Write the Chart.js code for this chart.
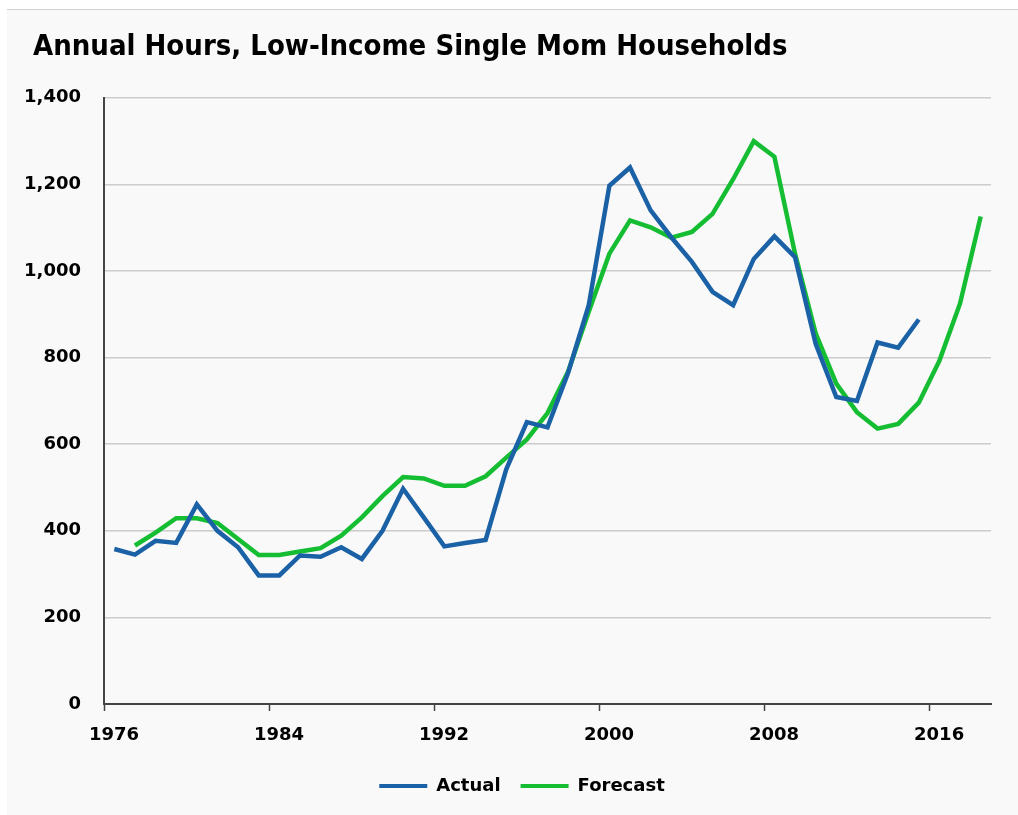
<!DOCTYPE html>
<html>
<head>
<meta charset="utf-8">
<title>Annual Hours, Low-Income Single Mom Households</title>
<script src="https://cdn.jsdelivr.net/npm/chart.js@4"></script>
<style>
    html, body { margin: 0; padding: 0; background: #ffffff; }
    #card {
        position: absolute; left: 7px; top: 9px; right: 0; bottom: 0;
        background: #f9f9f9; border-top: 1px solid #d0d0d0;
    }
    #hoursChart { position: absolute; left: 0; top: 0; }
</style>
</head>
<body>
<div id="card"></div>
<canvas id="hoursChart" width="1018" height="815"></canvas>
<script>
// Dados
const actualYears = [1976, 1977, 1978, 1979, 1980, 1981, 1982, 1983, 1984, 1985,
    1986, 1987, 1988, 1989, 1990, 1991, 1992, 1993, 1994, 1995,
    1996, 1997, 1998, 1999, 2000, 2001, 2002, 2003, 2004, 2005,
    2006, 2007, 2008, 2009, 2010, 2011, 2012, 2013, 2014, 2015];
const actualHours = [358, 345, 377, 372, 461, 400, 362, 297, 297, 343,
    340, 362, 335, 400, 497, 431, 364, 372, 379, 542,
    651, 639, 765, 921, 1197, 1239, 1140, 1078, 1021, 952,
    921, 1028, 1080, 1032, 832, 709, 700, 835, 823, 888];

const forecastYears = [1977, 1978, 1979, 1980, 1981, 1982, 1983, 1984, 1985,
    1986, 1987, 1988, 1989, 1990, 1991, 1992, 1993, 1994, 1995,
    1996, 1997, 1998, 1999, 2000, 2001, 2002, 2003, 2004, 2005,
    2006, 2007, 2008, 2009, 2010, 2011, 2012, 2013, 2014, 2015,
    2016, 2017, 2018];
const forecastHours = [366, 396, 429, 429, 418, 381, 344, 344, 352,
    360, 389, 431, 480, 524, 521, 504, 504, 526, 569,
    611, 672, 768, 906, 1040, 1117, 1101, 1077, 1090, 1132,
    1212, 1300, 1264, 1040, 856, 740, 674, 636, 647, 696,
    793, 925, 1126];

const xTicks = [1976, 1984, 1992, 2000, 2008, 2016];
const yTicks = [0, 200, 400, 600, 800, 1000, 1200, 1400];

const seriesNames = ['Actual', 'Forecast'];
const seriesColors = ['#1b61a6', '#14bd31'];

// cada ponto fica no meio do ano
function toPoints(years, values) {
    return years.map((year, i) => ({ x: year + 0.5, y: values[i] }));
}

const labelFont = { family: "'DejaVu Sans'", weight: 'bold', size: 18 };

// empurra o título e a legenda um pouco para a direita
const nudgeBoxes = {
    id: 'nudgeBoxes',
    afterLayout(chart) {
        if (chart.titleBlock) {
            chart.titleBlock.left += 8;
        }
        if (chart.legend) {
            chart.legend.left += 14;
            chart.legend.right += 14;
        }
    }
};

new Chart(document.getElementById('hoursChart').getContext('2d'), {
    type: 'line',
    data: {
        datasets: [
            {
                label: seriesNames[0],
                data: toPoints(actualYears, actualHours),
                borderColor: seriesColors[0],
                backgroundColor: seriesColors[0],
                borderWidth: 4.5,
                pointRadius: 0,
                tension: 0
            },
            {
                label: seriesNames[1],
                data: toPoints(forecastYears, forecastHours),
                borderColor: seriesColors[1],
                backgroundColor: seriesColors[1],
                borderWidth: 4.5,
                pointRadius: 0,
                tension: 0
            }
        ]
    },
    plugins: [nudgeBoxes],
    options: {
        responsive: false,
        animation: false,
        devicePixelRatio: 1,
        layout: {
            padding: { left: 25, right: 27, top: 22, bottom: 10 }
        },
        plugins: {
            title: {
                display: true,
                text: 'Annual Hours, Low-Income Single Mom Households',
                align: 'start',
                color: '#000000',
                font: { family: "'DejaVu Sans Condensed'", weight: 'bold', size: 29 },
                padding: { top: 8, bottom: 33 }
            },
            legend: {
                position: 'bottom',
                labels: {
                    color: '#000000',
                    font: labelFont,
                    boxWidth: 48,
                    boxHeight: 4,
                    padding: 20,
                    generateLabels: chart => chart.data.datasets.map((ds, i) => ({
                        text: ds.label,
                        fillStyle: ds.borderColor,
                        strokeStyle: ds.borderColor,
                        lineWidth: 0,
                        fontColor: '#000000',
                        datasetIndex: i
                    }))
                }
            },
            tooltip: { enabled: false }
        },
        scales: {
            x: {
                type: 'linear',
                min: 1976,
                max: 2019,
                afterBuildTicks: scale => {
                    scale.ticks = xTicks.map(v => ({ value: v }));
                },
                afterFit: scale => { scale.height = 53; },
                grid: {
                    drawOnChartArea: false,
                    drawTicks: true,
                    tickLength: 7,
                    tickWidth: 1.5,
                    color: '#444444'
                },
                border: { display: true, color: '#444444', width: 2 },
                ticks: {
                    color: '#000000',
                    font: labelFont,
                    padding: 14,
                    labelOffset: 10,
                    maxRotation: 0,
                    callback: v => String(v)
                }
            },
            y: {
                min: 0,
                max: 1400,
                afterBuildTicks: scale => {
                    scale.ticks = yTicks.map(v => ({ value: v }));
                },
                afterFit: scale => { scale.width = 79; },
                grid: {
                    drawTicks: false,
                    color: ctx => ctx.tick && ctx.tick.value === 0 ? 'rgba(0,0,0,0)' : '#cccccc',
                    lineWidth: 1.5
                },
                border: { display: true, color: '#444444', width: 2 },
                ticks: {
                    color: '#000000',
                    font: labelFont,
                    padding: 23,
                    callback: v => v.toLocaleString('en-US')
                }
            }
        }
    }
});
</script>
</body>
</html>
